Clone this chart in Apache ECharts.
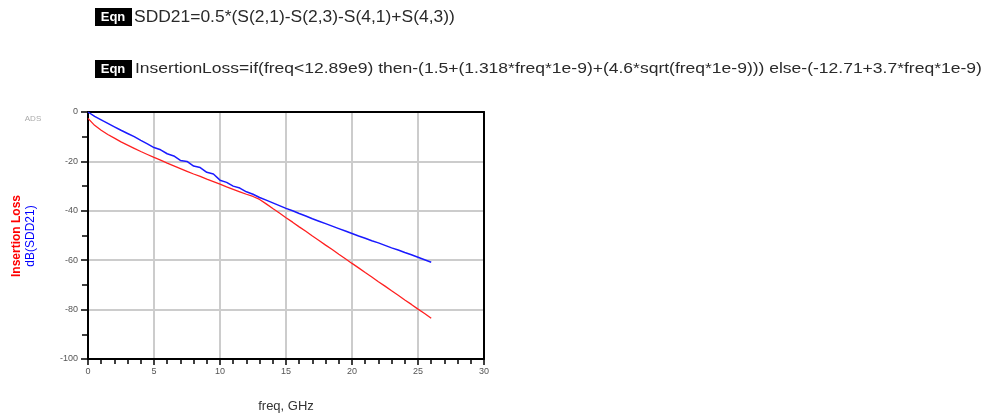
<!DOCTYPE html>
<html>
<head>
<meta charset="utf-8">
<script src="https://cdn.jsdelivr.net/npm/echarts@6/dist/echarts.min.js"></script>
<style>
  html, body { margin: 0; padding: 0; background: #fff; }
  #chart { width: 987px; height: 418px; }
</style>
</head>
<body>
<div id="chart"></div>
<script>
// frequency points, GHz
var freqGHz = [0, 0.5, 1, 1.5, 2, 2.5, 3, 3.5, 4, 4.5, 5, 5.5, 6, 6.5, 7, 7.5, 8, 8.5, 9, 9.5,
  10, 10.5, 11, 11.5, 12, 12.5, 13, 13.5, 14, 14.5, 15, 15.5, 16, 16.5, 17, 17.5, 18, 18.5, 19, 19.5,
  20, 20.5, 21, 21.5, 22, 22.5, 23, 23.5, 24, 24.5, 25, 25.5, 26];

// dB(SDD21), blue trace
var sdd21 = [0, -1.8, -3.2, -4.6, -6.0, -7.4, -8.7, -10.0, -11.5, -12.9, -14.4, -15.3, -16.9, -17.8, -19.6, -20.0, -21.9, -22.5, -24.4, -25.1,
  -27.6, -28.5, -30.0, -30.8, -32.3, -33.3, -34.6, -35.7, -36.8, -37.9, -39.0, -40.0, -41.1, -42.1, -43.2, -44.2, -45.2, -46.2, -47.2, -48.2,
  -49.2, -50.2, -51.1, -52.1, -53.0, -54.0, -55.0, -55.9, -56.9, -57.8, -58.8, -59.8, -60.8];

// Insertion Loss, red trace
var insLoss = [-2.6, -5.4, -7.4, -9.1, -10.6, -12.1, -13.4, -14.7, -16.0, -17.2, -18.4, -19.5, -20.7, -21.8, -22.9, -24.0, -25.1, -26.1, -27.2, -28.2,
  -29.2, -30.3, -31.3, -32.3, -33.3, -34.2, -35.4, -37.2, -39.1, -40.9, -42.8, -44.6, -46.5, -48.3, -50.2, -52.0, -53.9, -55.7, -57.6, -59.4,
  -61.3, -63.1, -65.0, -66.8, -68.7, -70.5, -72.4, -74.2, -76.1, -77.9, -79.8, -81.6, -83.5];

var eqn1 = "SDD21=0.5*(S(2,1)-S(2,3)-S(4,1)+S(4,3))";
var eqn2 = "InsertionLoss=if(freq<12.89e9) then-(1.5+(1.318*freq*1e-9)+(4.6*sqrt(freq*1e-9))) else-(-12.71+3.7*freq*1e-9)";

function pairs(xs, ys) {
  return xs.map(function (x, i) { return [x, ys[i]]; });
}

var chart = echarts.init(document.getElementById("chart"));
var font = "'Liberation Sans', Arial, sans-serif";
var frameLine = { onZero: false, lineStyle: { color: "#000", width: 2 } };

chart.setOption({
  backgroundColor: "#fff",
  animation: false,
  grid: {
    left: 88,
    top: 112,
    width: 396,
    height: 249
  },
  xAxis: [
    {
      type: "value",
      min: 0,
      max: 30,
      interval: 5,
      name: "freq, GHz",
      nameLocation: "middle",
      nameGap: 41,
      nameTextStyle: { fontFamily: font, fontSize: 13, color: "#333" },
      axisLine: frameLine,
      axisTick: { show: true, length: 6, lineStyle: { color: "#000", width: 1.5 } },
      minorTick: { show: true, splitNumber: 5, length: 5, lineStyle: { color: "#000", width: 1.5 } },
      axisLabel: { fontFamily: font, fontSize: 9, color: "#555", margin: 8 },
      splitLine: { show: true, lineStyle: { color: "#ccc", width: 2 } }
    },
    {
      // top frame edge
      type: "value",
      position: "top",
      min: 0,
      max: 30,
      axisLine: frameLine,
      axisTick: { show: false },
      axisLabel: { show: false },
      splitLine: { show: false }
    }
  ],
  yAxis: [
    {
      type: "value",
      min: -100,
      max: 0,
      interval: 20,
      axisLine: frameLine,
      axisTick: { show: true, length: 7, lineStyle: { color: "#000", width: 1.5 } },
      minorTick: { show: true, splitNumber: 2, length: 6, lineStyle: { color: "#000", width: 1.5 } },
      axisLabel: { fontFamily: font, fontSize: 9, color: "#555", margin: 10 },
      splitLine: { show: true, lineStyle: { color: "#ccc", width: 2 } }
    },
    {
      // right frame edge
      type: "value",
      position: "right",
      min: -100,
      max: 0,
      axisLine: frameLine,
      axisTick: { show: false },
      axisLabel: { show: false },
      splitLine: { show: false }
    }
  ],
  series: [
    {
      name: "Insertion Loss",
      type: "line",
      showSymbol: false,
      lineStyle: { color: "#ff2020", width: 1.3 },
      data: pairs(freqGHz, insLoss)
    },
    {
      name: "dB(SDD21)",
      type: "line",
      showSymbol: false,
      lineStyle: { color: "#1a1aff", width: 1.5 },
      data: pairs(freqGHz, sdd21)
    }
  ],
  graphic: [
    { type: "rect", shape: { x: 95, y: 8, width: 37, height: 18 }, style: { fill: "#000" } },
    { type: "text", x: 113, y: 17, style: { text: "Eqn", fill: "#fff", font: "bold 13px " + font, align: "center", verticalAlign: "middle" } },
    { type: "text", x: 134, y: 18, scaleX: 1.09, style: { text: eqn1, fill: "#2a2a2a", font: "16px " + font, verticalAlign: "middle" } },
    { type: "rect", shape: { x: 95, y: 60, width: 37, height: 18 }, style: { fill: "#000" } },
    { type: "text", x: 113, y: 69, style: { text: "Eqn", fill: "#fff", font: "bold 13px " + font, align: "center", verticalAlign: "middle" } },
    { type: "text", x: 135, y: 69, scaleX: 1.25, style: { text: eqn2, fill: "#2a2a2a", font: "14px " + font, verticalAlign: "middle" } },
    { type: "text", x: 33, y: 119, style: { text: "ADS", fill: "#aaa", font: "8px " + font, align: "center", verticalAlign: "middle" } },
    { type: "text", x: 17, y: 236, rotation: Math.PI / 2, style: { text: "Insertion Loss", fill: "#ff0000", font: "bold 12px " + font, align: "center", verticalAlign: "middle" } },
    { type: "text", x: 31, y: 236, rotation: Math.PI / 2, style: { text: "dB(SDD21)", fill: "#0000ff", font: "12px " + font, align: "center", verticalAlign: "middle" } }
  ]
});
</script>
</body>
</html>
